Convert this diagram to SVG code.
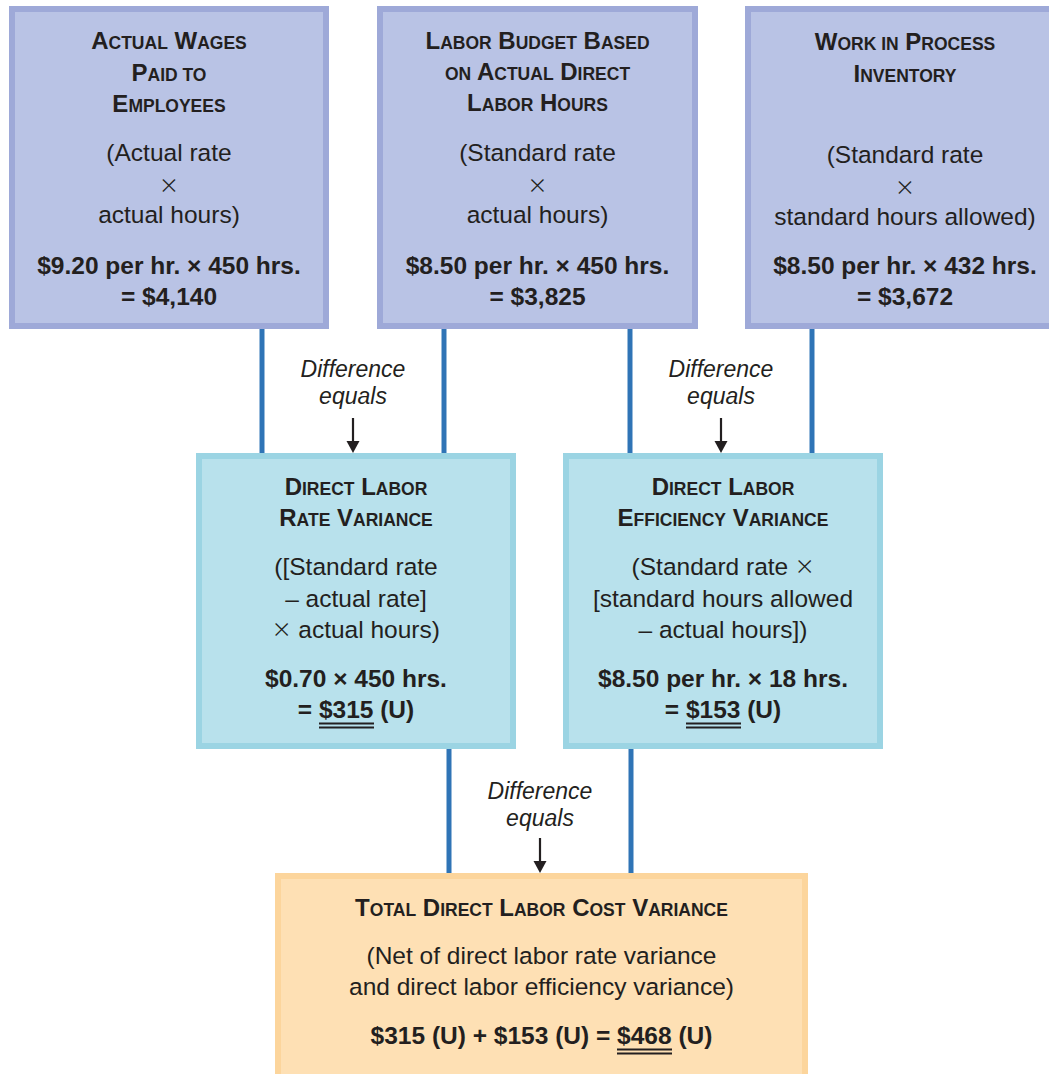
<svg xmlns="http://www.w3.org/2000/svg" width="1049" height="1074" viewBox="0 0 1049 1074">
<style>
text{font-family:"Liberation Sans",Arial,sans-serif;fill:#231f20;text-anchor:middle}
.t{font-weight:bold;font-size:24px}
.s{font-size:17.5px}
.r{font-size:24.5px}
.b{font-weight:bold;font-size:24.5px}
.i{font-style:italic;font-size:23px}
.x{font-family:Inter,"Noto Sans",sans-serif;font-weight:200;font-size:30px}
.top{fill:#b9c3e5;stroke:#9ea9d8;stroke-width:6}
.mid{fill:#b8e1ec;stroke:#9bd4e3;stroke-width:6}
.bot{fill:#fee0b4;stroke:#fcd59c;stroke-width:6}
.c{stroke:#2f74b6;stroke-width:5;fill:none}
.a{stroke:#231f20;stroke-width:2.2;fill:none}
.u{stroke:#231f20;stroke-width:1.8}
</style>
<defs>
<marker id="ah" markerUnits="userSpaceOnUse" markerWidth="14" markerHeight="14" refX="0" refY="0" viewBox="0 -7 14 14" orient="auto" overflow="visible">
<path d="M0,-6.5 L12,0 L0,6.5 z" fill="#231f20"/>
</marker>
</defs>
<rect width="1049" height="1074" fill="#ffffff"/>
<g id="connectors">
<line class="c" x1="262" y1="329" x2="262" y2="456"/>
<line class="c" x1="444" y1="329" x2="444" y2="456"/>
<line class="c" x1="630" y1="329" x2="630" y2="456"/>
<line class="c" x1="812" y1="329" x2="812" y2="456"/>
<line class="c" x1="449" y1="746" x2="449" y2="876"/>
<line class="c" x1="631" y1="746" x2="631" y2="876"/>
<line class="a" x1="353" y1="418" x2="353" y2="441" marker-end="url(#ah)"/>
<line class="a" x1="721" y1="418" x2="721" y2="441" marker-end="url(#ah)"/>
<line class="a" x1="540" y1="838" x2="540" y2="861" marker-end="url(#ah)"/>
<text class="i" x="353" y="377">Difference</text>
<text class="i" x="353" y="404">equals</text>
<text class="i" x="721" y="377">Difference</text>
<text class="i" x="721" y="404">equals</text>
<text class="i" x="540" y="799">Difference</text>
<text class="i" x="540" y="826">equals</text>
</g>
<g id="actual-wages">
<rect class="top" x="12" y="9" width="314" height="317"/>
<text class="t" x="169" y="49">A<tspan class="s">CTUAL</tspan> W<tspan class="s">AGES</tspan></text>
<text class="t" x="169" y="81">P<tspan class="s">AID TO</tspan></text>
<text class="t" x="169" y="112">E<tspan class="s">MPLOYEES</tspan></text>
<text class="r" x="169" y="161">(Actual rate</text>
<text class="x" x="169" y="194">×</text>
<text class="r" x="169" y="223">actual hours)</text>
<text class="b" x="169" y="274">$9.20 per hr. × 450 hrs.</text>
<text class="b" x="169" y="305">= $4,140</text>
</g>
<g id="labor-budget">
<rect class="top" x="380" y="9" width="315" height="317"/>
<text class="t" x="537.5" y="49">L<tspan class="s">ABOR</tspan> B<tspan class="s">UDGET</tspan> B<tspan class="s">ASED</tspan></text>
<text class="t" x="537.5" y="80"><tspan class="s">ON</tspan> A<tspan class="s">CTUAL</tspan> D<tspan class="s">IRECT</tspan></text>
<text class="t" x="537.5" y="111">L<tspan class="s">ABOR</tspan> H<tspan class="s">OURS</tspan></text>
<text class="r" x="537.5" y="161">(Standard rate</text>
<text class="x" x="537.5" y="194">×</text>
<text class="r" x="537.5" y="223">actual hours)</text>
<text class="b" x="537.5" y="274">$8.50 per hr. × 450 hrs.</text>
<text class="b" x="537.5" y="305">= $3,825</text>
</g>
<g id="wip-inventory">
<rect class="top" x="748" y="9" width="320" height="317"/>
<text class="t" x="905" y="50">W<tspan class="s">ORK IN</tspan> P<tspan class="s">ROCESS</tspan></text>
<text class="t" x="905" y="82">I<tspan class="s">NVENTORY</tspan></text>
<text class="r" x="905" y="163">(Standard rate</text>
<text class="x" x="905" y="196">×</text>
<text class="r" x="905" y="225">standard hours allowed)</text>
<text class="b" x="905" y="274">$8.50 per hr. × 432 hrs.</text>
<text class="b" x="905" y="305">= $3,672</text>
</g>
<g id="rate-variance">
<rect class="mid" x="199" y="456" width="314" height="290"/>
<text class="t" x="356" y="495">D<tspan class="s">IRECT</tspan> L<tspan class="s">ABOR</tspan></text>
<text class="t" x="356" y="526">R<tspan class="s">ATE</tspan> V<tspan class="s">ARIANCE</tspan></text>
<text class="r" x="356" y="575">([Standard rate</text>
<text class="r" x="356" y="607">– actual rate]</text>
<text class="r" x="356" y="638"><tspan class="x">×</tspan> actual hours)</text>
<text class="b" x="356" y="687">$0.70 × 450 hrs.</text>
<text class="b" x="356" y="718">= $315 (U)</text>
<line class="u" x1="319" y1="723.5" x2="374" y2="723.5"/>
<line class="u" x1="319" y1="727.5" x2="374" y2="727.5"/>
</g>
<g id="efficiency-variance">
<rect class="mid" x="566" y="456" width="314" height="290"/>
<text class="t" x="723" y="495">D<tspan class="s">IRECT</tspan> L<tspan class="s">ABOR</tspan></text>
<text class="t" x="723" y="526">E<tspan class="s">FFICIENCY</tspan> V<tspan class="s">ARIANCE</tspan></text>
<text class="r" x="723" y="575">(Standard rate <tspan class="x">×</tspan></text>
<text class="r" x="723" y="607">[standard hours allowed</text>
<text class="r" x="723" y="638">– actual hours])</text>
<text class="b" x="723" y="687">$8.50 per hr. × 18 hrs.</text>
<text class="b" x="723" y="718">= $153 (U)</text>
<line class="u" x1="686" y1="723.5" x2="741" y2="723.5"/>
<line class="u" x1="686" y1="727.5" x2="741" y2="727.5"/>
</g>
<g id="total-variance">
<rect class="bot" x="278" y="876" width="527" height="210"/>
<text class="t" x="541.5" y="916">T<tspan class="s">OTAL</tspan> D<tspan class="s">IRECT</tspan> L<tspan class="s">ABOR</tspan> C<tspan class="s">OST</tspan> V<tspan class="s">ARIANCE</tspan></text>
<text class="r" x="541.5" y="964">(Net of direct labor rate variance</text>
<text class="r" x="541.5" y="995">and direct labor efficiency variance)</text>
<text class="b" x="541.5" y="1044">$315 (U) + $153 (U) = $468 (U)</text>
<line class="u" x1="617" y1="1049.5" x2="672" y2="1049.5"/>
<line class="u" x1="617" y1="1053.5" x2="672" y2="1053.5"/>
</g>
</svg>
